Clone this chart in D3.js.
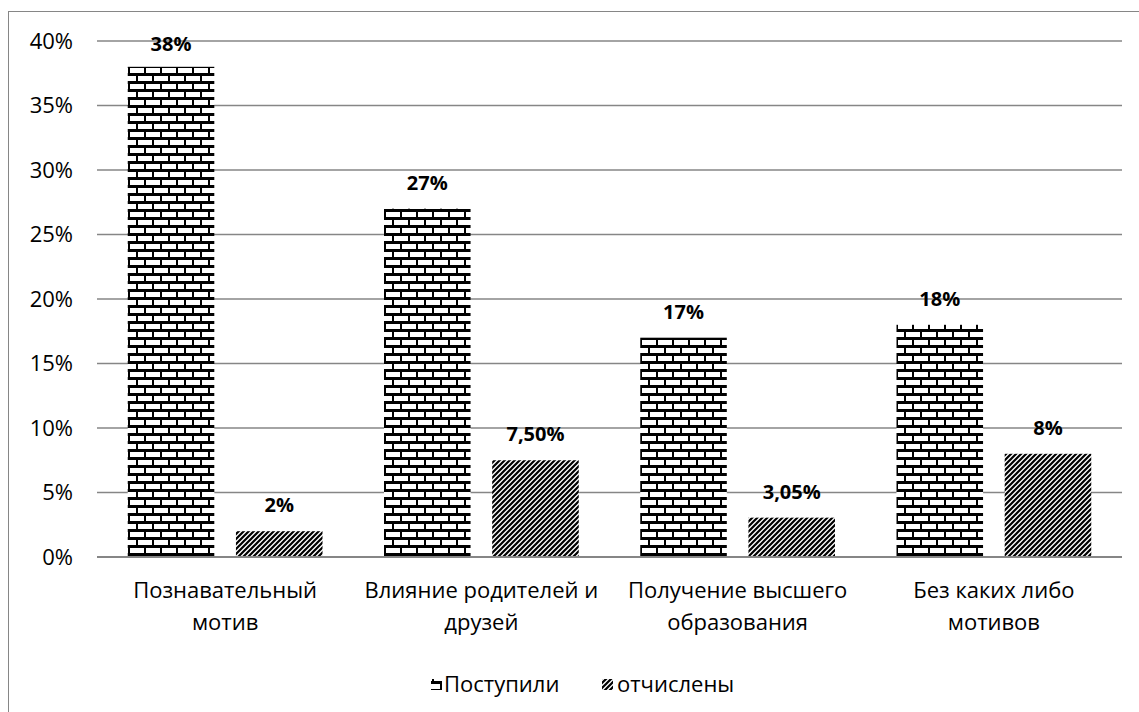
<!DOCTYPE html>
<html><head><meta charset="utf-8">
<script src="https://cdn.jsdelivr.net/npm/d3@7"></script>
<style>body{margin:0;background:#fff;} svg{display:block;font-family:"Open Sans","Noto Sans",sans-serif;}</style>
</head><body><svg id="c" width="1139" height="712"></svg>
<script>
const categories = [["Познавательный","мотив"],["Влияние родителей и","друзей"],["Получение высшего","образования"],["Без каких либо","мотивов"]];
const seriesNames = ["Поступили","отчислены"];
const admitted = [0.38,0.27,0.17,0.18];
const expelled = [0.02,0.075,0.0305,0.08];
const admittedLabels = ["38%","27%","17%","18%"];
const expelledLabels = ["2%","7,50%","3,05%","8%"];
const yTicks = [0,0.05,0.1,0.15,0.2,0.25,0.3,0.35,0.4];

const svg = d3.select("#c");
const defs = svg.append("defs");
// brick pattern
const bp = defs.append("pattern").attr("id","brick").attr("patternUnits","userSpaceOnUse")
  .attr("width",16).attr("height",16).attr("x",0).attr("y",1);
bp.append("rect").attr("width",16).attr("height",16).attr("fill","#fff");
bp.append("rect").attr("x",0).attr("y",0).attr("width",16).attr("height",3).attr("fill","#000");
bp.append("rect").attr("x",0).attr("y",8).attr("width",16).attr("height",3).attr("fill","#000");
bp.append("rect").attr("x",0).attr("y",3).attr("width",2).attr("height",5).attr("fill","#000");
bp.append("rect").attr("x",8).attr("y",11).attr("width",2).attr("height",5).attr("fill","#000");
// diagonal pattern
const dp = defs.append("pattern").attr("id","diag").attr("patternUnits","userSpaceOnUse")
  .attr("width",5).attr("height",5);
dp.append("rect").attr("width",5).attr("height",5).attr("fill","#fff");
dp.append("path").attr("d","M-1,1 L1,-1 M0,5 L5,0 M4,6 L6,4").attr("stroke","#000").attr("stroke-width",2.2);

// outer border
svg.append("rect").attr("x",8.5).attr("y",11.5).attr("width",1140).attr("height",720)
  .attr("fill","none").attr("stroke","#868686").attr("stroke-width",1);

const pLeft=97, pRight=1122, pTop=41, pBottom=557;
const y = d3.scaleLinear().domain([0,0.4]).range([pBottom,pTop]);
const x0 = d3.scaleBand().domain(d3.range(4)).range([pLeft,pRight]).paddingInner(0.24).paddingOuter(0.12);
const x1 = d3.scaleBand().domain([0,1]).range([0,x0.bandwidth()]).paddingInner(0.2);

const FS = 22;
// gridlines
const g = svg.append("g");
g.selectAll("line.grid").data(yTicks).join("line")
  .attr("x1",pLeft).attr("x2",pRight).attr("y1",d=>y(d)).attr("y2",d=>y(d))
  .attr("stroke","#868686").attr("stroke-width",1.5);
g.selectAll("text.tick").data(yTicks).join("text")
  .attr("x",73).attr("y",d=>y(d)).attr("dy","0.36em").attr("text-anchor","end")
  .attr("font-size",FS).attr("fill","#000").text(d=>d3.format(".0%")(d));

const series = [{vals:admitted,labels:admittedLabels,fill:"url(#brick)"},{vals:expelled,labels:expelledLabels,fill:"url(#diag)"}];
series.forEach((s,si)=>{
  svg.append("g").selectAll("rect").data(s.vals).join("rect")
    .attr("x",(d,i)=>x0(i)+x1(si)).attr("width",x1.bandwidth())
    .attr("y",d=>y(d)).attr("height",d=>pBottom-y(d)).attr("fill",s.fill);
  svg.append("g").selectAll("text").data(s.vals).join("text")
    .attr("x",(d,i)=>x0(i)+x1(si)+x1.bandwidth()/2)
    .attr("y",d=>Math.max(y(d)-26,44)).attr("dy","0.36em").attr("text-anchor","middle")
    .attr("font-size",20).attr("font-weight","bold").attr("fill","#000")
    .text((d,i)=>s.labels[i]);
});
// baseline
svg.append("line").attr("x1",pLeft).attr("x2",pRight).attr("y1",pBottom).attr("y2",pBottom)
  .attr("stroke","#868686").attr("stroke-width",2);

// category labels
categories.forEach((c,i)=>{
  const t = svg.append("text").attr("text-anchor","middle").attr("font-size",FS).attr("fill","#000");
  c.forEach((line,li)=>{
    t.append("tspan").attr("x",x0(i)+x0.bandwidth()/2).attr("y",590+li*32).attr("dy","0.36em").text(line);
  });
});

// legend
const lg = svg.append("g");
const legendItems = [{x:431,tx:444,name:seriesNames[0],fill:"url(#brick)"},{x:602,tx:617,name:seriesNames[1],fill:"url(#diag)"}];
legendItems.forEach(it=>{
  lg.append("rect").attr("x",it.x).attr("y",679).attr("width",11).attr("height",11).attr("fill",it.fill);
  lg.append("text").attr("x",it.tx).attr("y",684).attr("dy","0.36em").attr("font-size",FS).attr("fill","#000").text(it.name);
});
</script></body></html>
